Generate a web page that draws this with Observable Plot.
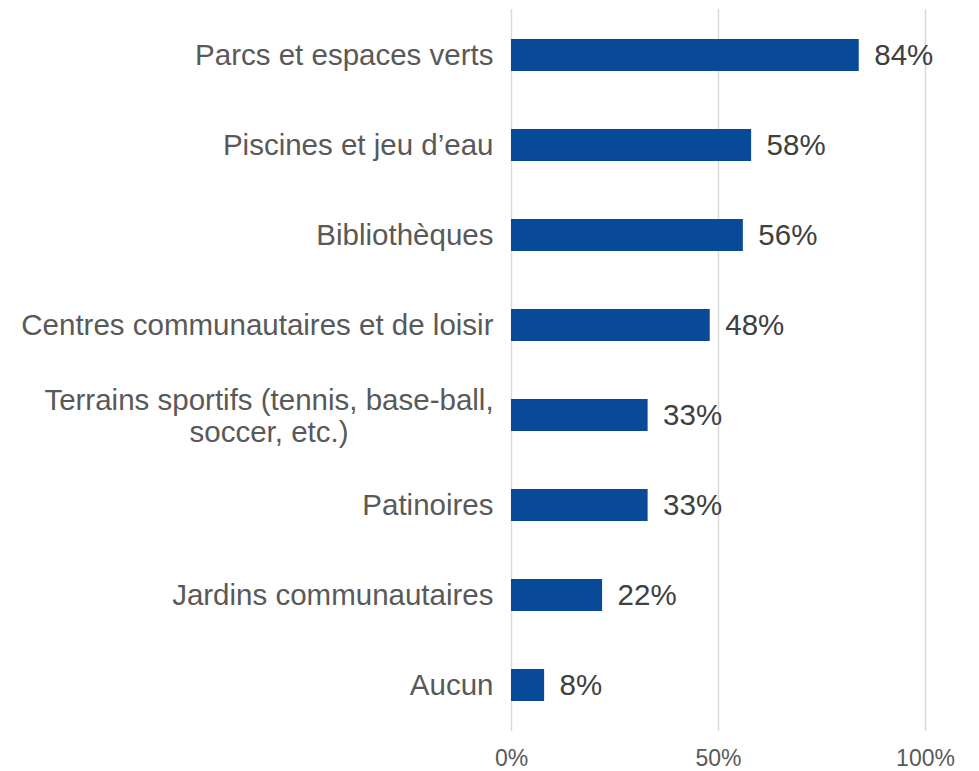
<!DOCTYPE html>
<html>
<head>
<meta charset="utf-8">
<script src="https://cdn.jsdelivr.net/npm/d3@7"></script>
<script src="https://cdn.jsdelivr.net/npm/@observablehq/plot@0.6"></script>
<style>
  html, body { margin: 0; padding: 0; background: #fff; }
  #chart svg { display: block; }
</style>
</head>
<body>
<div id="chart"></div>
<script>
const categories = [
  "Parcs et espaces verts",
  "Piscines et jeu d’eau",
  "Bibliothèques",
  "Centres communautaires et de loisir",
  "Terrains sportifs (tennis, base-ball,\nsoccer, etc.)",
  "Patinoires",
  "Jardins communautaires",
  "Aucun"
];
const values = [84, 58, 56, 48, 33, 33, 22, 8];
const xTicks = [0, 50, 100];
const wrappedCategory = categories[4];

const data = categories.map((c, i) => ({category: c, value: values[i]}));

const font = "'Liberation Sans', Arial, sans-serif";

const chart = Plot.plot({
  width: 979,
  height: 771,
  marginLeft: 511,
  marginRight: 54,
  marginTop: 9,
  marginBottom: 40,
  style: {fontFamily: font, background: "#fff"},
  x: {domain: [0, 100], ticks: xTicks, tickFormat: d => d + "%", label: null},
  y: {domain: categories, paddingInner: 0.646, paddingOuter: 0.323, axis: null},
  marks: [
    Plot.ruleX(xTicks, {stroke: "#d9d9d9", strokeWidth: 1.5}),
    Plot.barX(data, {x: "value", y: "category", fill: "#084a97"}),
    Plot.text(data, {
      x: "value", y: "category", text: d => d.value + "%",
      textAnchor: "start", dx: 15, fontSize: 29.5, fill: "#404040"
    }),
    Plot.text(data.filter(d => d.category !== wrappedCategory), {
      x: () => 0, y: "category", text: "category",
      textAnchor: "end", dx: -18, fontSize: 29.5, fill: "#595959"
    }),
    Plot.text(data.filter(d => d.category === wrappedCategory), {
      x: () => 0, y: "category", text: "category",
      textAnchor: "middle", dx: -242.5, fontSize: 29.5, fill: "#595959", lineHeight: 1.08
    }),
    Plot.axisX({
      ticks: xTicks, tickFormat: d => d + "%", tickSize: 0, tickPadding: 18,
      fontSize: 23, color: "#595959", label: null
    })
  ]
});
document.getElementById("chart").appendChild(chart);
</script>
</body>
</html>
